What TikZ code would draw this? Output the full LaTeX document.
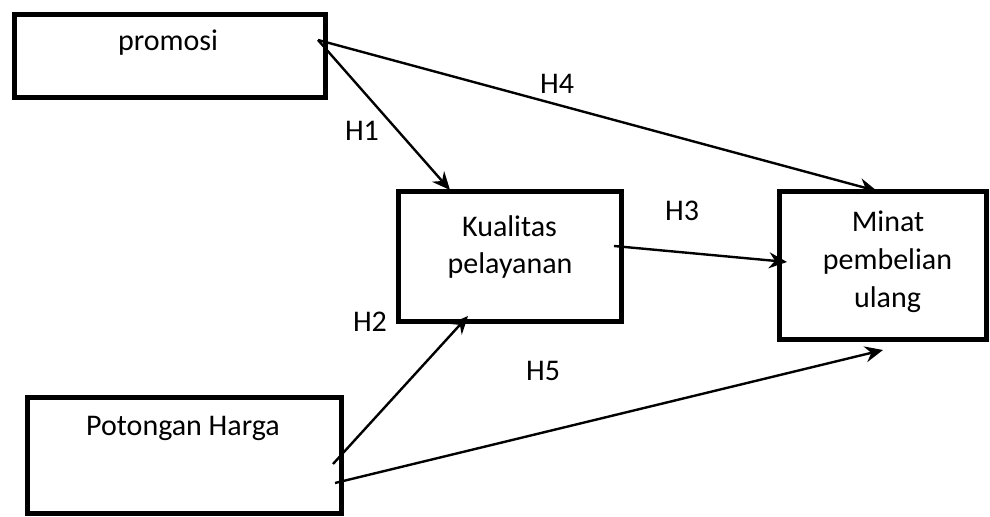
\documentclass[tikz,border=0pt]{standalone}
\usepackage{fontspec}
\setmainfont{Carlito}
\usetikzlibrary{arrows.meta}
\tikzset{
  box/.style={draw=black, line width=2.5pt, rectangle, inner sep=0pt, fill=white},
  lbl/.style={anchor=base, inner sep=0pt, font=\fontsize{15pt}{19pt}\selectfont},
  conn/.style={draw=black, line width=1.2pt, -{Stealth[length=9pt,width=8pt,inset=3pt]}}
}
\begin{document}
\begin{tikzpicture}[x=0.5pt,y=-0.5pt]
\useasboundingbox (0,0) rectangle (990,517);
% boxes
\node[box, minimum width=155.5pt, minimum height=41.5pt] (promosi) at (169.5,56.5) {};
\node[box, minimum width=111.5pt, minimum height=65pt] (kualitas) at (509.5,257) {};
\node[box, minimum width=103.5pt, minimum height=74pt] (minat) at (882.5,266) {};
\node[box, minimum width=157pt, minimum height=58pt] (potongan) at (184,456) {};
% box texts
\node[lbl] (tpromosi) at (168,51) {promosi};
\node[lbl] (tkual1) at (509.5,237) {Kualitas};
\node[lbl] (tkual2) at (510,274) {pelayanan};
\node[lbl] (tmin1) at (888,232) {Minat};
\node[lbl] (tmin2) at (887.5,270) {pembelian};
\node[lbl] (tmin3) at (887.5,308) {ulang};
\node[lbl] (tpot) at (183,436) {Potongan Harga};
% connector end points
\coordinate (ps) at (318,40);
\coordinate (h1e) at (450,190);
\coordinate (h4e) at (877,191);
\coordinate (h3s) at (614,246);
\coordinate (h3e) at (787,262);
\coordinate (h2s) at (333,464);
\coordinate (h2e) at (468,316);
\coordinate (h5s) at (335,483);
\coordinate (h5e) at (883,350);
% connectors
\draw[conn] (ps) -- (h1e);
\draw[conn] (ps) -- (h4e);
\draw[conn] (h3s) -- (h3e);
\draw[conn] (h2s) -- (h2e);
\draw[conn] (h5s) -- (h5e);
% hypothesis labels
\node[lbl] (lh1) at (362,141) {H1};
\node[lbl] (lh4) at (557,94) {H4};
\node[lbl] (lh3) at (682,221) {H3};
\node[lbl] (lh2) at (370,332) {H2};
\node[lbl] (lh5) at (543,381) {H5};
\end{tikzpicture}
\end{document}
